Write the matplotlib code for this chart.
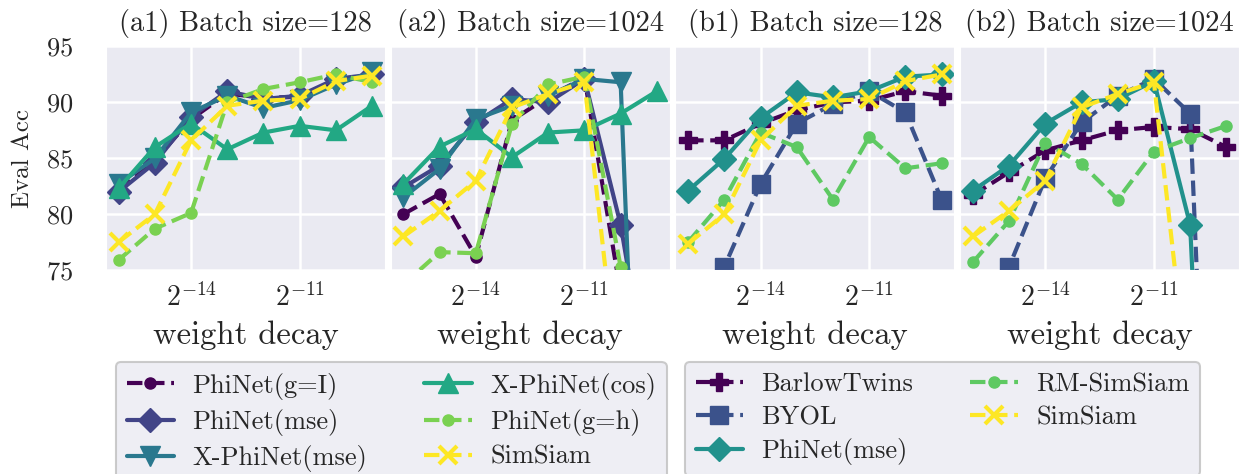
import numpy as np
import matplotlib
matplotlib.use('Agg')
import matplotlib.pyplot as plt
import seaborn as sns

sns.set_style('darkgrid')
plt.rcParams['font.family'] = 'serif'
plt.rcParams['font.serif'] = ['cmr10', 'DejaVu Serif']
plt.rcParams['mathtext.fontset'] = 'cm'
plt.rcParams['axes.formatter.use_mathtext'] = True
plt.rcParams['axes.unicode_minus'] = False

# weight decay values (2^exp)
wd_exp = [-16, -15, -14, -13, -12, -11, -10, -9]
wd = [2.0 ** e for e in wd_exp]

# (a) PhiNet variants
a_names = ['PhiNet(g=I)', 'PhiNet(mse)', 'X-PhiNet(mse)', 'X-PhiNet(cos)', 'PhiNet(g=h)', 'SimSiam']
a1_vals = [
    [82.1, 84.8, 88.5, 90.8, 90.4, 90.5, 92.0, 92.4],
    [82.0, 84.6, 88.7, 91.0, 90.3, 90.6, 92.1, 92.5],
    [82.7, 85.0, 89.1, 90.6, 89.5, 90.2, 91.6, 92.7],
    [82.3, 86.0, 88.1, 85.8, 87.3, 87.9, 87.5, 89.7],
    [75.9, 78.7, 80.1, 90.0, 91.2, 91.8, 92.5, 91.8],
    [77.5, 80.0, 86.6, 89.7, 90.15, 90.3, 91.9, 92.4],
]
a2_vals = [
    [80.0, 81.8, 76.2, 88.4, 90.5, 92.2, 73.0, 10.0],
    [82.4, 84.35, 88.2, 90.3, 90.0, 92.1, 79.05, 60.0],
    [81.5, 84.05, 88.5, 89.7, 90.6, 92.1, 91.8, 10.0],
    [82.7, 86.05, 87.6, 85.1, 87.3, 87.5, 89.0, 91.0],
    [73.7, 76.6, 76.5, 88.1, 91.6, 92.3, 75.3, 10.0],
    [78.0, 80.3, 83.0, 89.55, 90.75, 91.8, 63.0, 10.0],
]

# (b) baselines
b_names = ['BarlowTwins', 'BYOL', 'PhiNet(mse)', 'RM-SimSiam', 'SimSiam']
b1_vals = [
    [86.6, 86.6, 88.1, 89.3, 90.0, 90.15, 91.0, 90.6],
    [50.0, 75.3, 82.7, 88.1, 89.85, 91.0, 89.1, 81.3],
    [82.1, 84.95, 88.6, 90.9, 90.45, 91.0, 92.3, 92.5],
    [77.5, 81.3, 87.3, 86.0, 81.3, 86.9, 84.1, 84.55],
    [77.35, 80.0, 86.6, 89.7, 90.15, 90.3, 91.9, 92.5],
]
b2_vals = [
    [81.7, 83.75, 85.7, 86.6, 87.5, 87.8, 87.6, 86.0],
    [50.0, 75.3, 83.2, 88.2, 90.6, 92.1, 89.0, 12.0],
    [82.1, 84.35, 88.1, 90.0, 90.3, 91.9, 79.05, 10.0],
    [75.7, 79.4, 86.4, 84.5, 81.3, 85.6, 86.8, 87.9],
    [78.0, 80.3, 83.0, 89.55, 90.75, 91.8, 63.0, 10.0],
]

titles = ['(a1) Batch size=128', '(a2) Batch size=1024',
          '(b1) Batch size=128', '(b2) Batch size=1024']

a_colors = plt.cm.viridis(np.linspace(0, 1, 6))
b_colors = plt.cm.viridis(np.linspace(0, 1, 5))
a_style = [('o', '--', 8), ('D', '-', 12), ('v', '-', 15), ('^', '-', 15), ('o', '--', 8), ('x', '--', 13)]
b_style = [('P', '--', 13), ('s', '--', 13), ('D', '-', 12), ('o', '--', 8), ('x', '--', 13)]

fig, axes = plt.subplots(1, 4, figsize=(12.47, 4.74), dpi=100, sharey=True)
fig.subplots_adjust(left=106/1247, right=1239/1247, top=1-46.5/474, bottom=1-270/474, wspace=0.0215)


def draw(ax, names, vals, colors, styles):
    hs = []
    for name, v, c, (m, ls, ms) in zip(names, vals, colors, styles):
        mew = 3 if m == 'x' else 1
        h, = ax.plot(wd, v, ls, marker=m, color=c, ms=ms, lw=3, mew=mew, label=name)
        hs.append(h)
    return hs


ha = draw(axes[0], a_names, a1_vals, a_colors, a_style)
draw(axes[1], a_names, a2_vals, a_colors, a_style)
hb = draw(axes[2], b_names, b1_vals, b_colors, b_style)
draw(axes[3], b_names, b2_vals, b_colors, b_style)

for ax, t in zip(axes, titles):
    ax.set_xscale('log', base=2)
    ax.set_xticks([2.0 ** -14, 2.0 ** -11])
    ax.xaxis.set_minor_locator(matplotlib.ticker.NullLocator())
    ax.set_ylim(75, 95)
    ax.set_yticks([75, 80, 85, 90, 95])
    ax.grid(True, color='white', lw=1.8)
    ax.set_title(t, fontsize=20.5, color='#262626', pad=11)
    ax.set_xlabel('weight decay', fontsize=23.5, color='#262626', labelpad=6)
    ax.tick_params(axis='x', labelsize=20, pad=6, colors='#262626')
    ax.tick_params(axis='y', labelsize=19, pad=20, colors='#262626')

axes[0].set_ylabel('Eval Acc', fontsize=18, color='#262626', labelpad=9)

leg_kw = dict(ncol=2, fontsize=19, loc='upper left', facecolor='#EAEAF2', edgecolor='0.75',
              framealpha=0.8, fancybox=True, labelspacing=0.35, columnspacing=2.15,
              handlelength=1.8, handletextpad=0.7, borderaxespad=0)
la = fig.legend(handles=ha, bbox_to_anchor=(116/1247, 1-362/474), **leg_kw)
lb = fig.legend(handles=hb, bbox_to_anchor=(685/1247, 1-362/474), **leg_kw)
for lg in (la, lb):
    lg.get_frame().set_linewidth(1.5)
    for t in lg.get_texts():
        t.set_color('#262626')

fig.savefig('out.png', dpi=100)
